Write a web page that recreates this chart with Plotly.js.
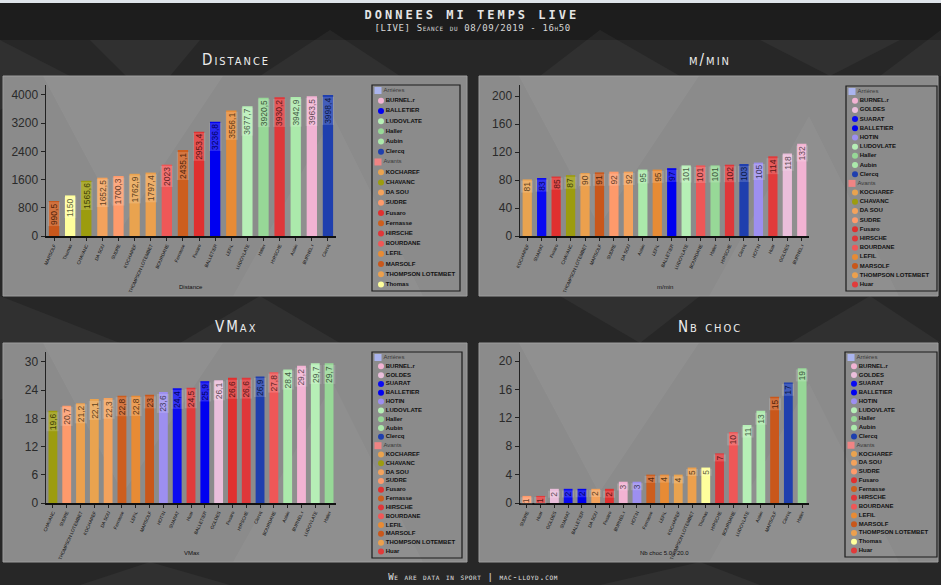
<!DOCTYPE html>
<html>
<head>
<meta charset="utf-8">
<script src="https://cdn.plot.ly/plotly-3.0.1.min.js"></script>
<style>
  html, body { margin: 0; padding: 0; background: #272727; }
  #chart { width: 941px; height: 585px; }
  .annotation[data-index="0"] .annotation-text { letter-spacing: 3px; }
  .annotation[data-index="1"] .annotation-text,
  .annotation[data-index="2"] .annotation-text { letter-spacing: 0.6px; }
  .annotation[data-index="3"] .annotation-text,
  .annotation[data-index="4"] .annotation-text,
  .annotation[data-index="5"] .annotation-text,
  .annotation[data-index="6"] .annotation-text { letter-spacing: 2px; }
</style>
</head>
<body>
<div id="chart"></div>
<script>
// ---- Data -------------------------------------------------------------
const distancePlayers = ['MARSOLF', 'Thomas', 'CHAVANC', 'DA SOU', 'SUDRE', 'KOCHAREF', 'THOMPSON LOTEMBET', 'BOURDANE', 'Fernasse', 'Fusaro', 'BALLETIER', 'LEFIL', 'LUDOVLATE', 'Haller', 'HIRSCHE', 'Aubin', 'BURNEL.r', 'Clercq'];
const distanceValues = [990.5, 1150, 1565.6, 1652.5, 1700.3, 1762.9, 1797.4, 2023, 2435.1, 2953.4, 3236.8, 3556.1, 3677.7, 3920.5, 3930.2, 3942.9, 3963.5, 3998.4];
const distanceBacks = ['BURNEL.r', 'BALLETIER', 'LUDOVLATE', 'Haller', 'Aubin', 'Clercq'];
const distanceForwards = ['KOCHAREF', 'CHAVANC', 'DA SOU', 'SUDRE', 'Fusaro', 'Fernasse', 'HIRSCHE', 'BOURDANE', 'LEFIL', 'MARSOLF', 'THOMPSON LOTEMBET', 'Thomas'];

const mminPlayers = ['KOCHAREF', 'SUARAT', 'Fusaro', 'CHAVANC', 'THOMPSON LOTEMBET', 'MARSOLF', 'SUDRE', 'DA SOU', 'Aubin', 'LEFIL', 'BALLETIER', 'LUDOVLATE', 'BOURDANE', 'Haller', 'HIRSCHE', 'Clercq', 'HOTIN', 'Huar', 'GOLDES', 'BURNEL.r'];
const mminValues = [81, 83, 85, 87, 90, 91, 92, 92, 95, 95, 97, 101, 101, 101, 102, 103, 105, 114, 118, 132];
const mminBacks = ['BURNEL.r', 'GOLDES', 'SUARAT', 'BALLETIER', 'HOTIN', 'LUDOVLATE', 'Haller', 'Aubin', 'Clercq'];
const mminForwards = ['KOCHAREF', 'CHAVANC', 'DA SOU', 'SUDRE', 'Fusaro', 'HIRSCHE', 'BOURDANE', 'LEFIL', 'MARSOLF', 'THOMPSON LOTEMBET', 'Huar'];

const vmaxPlayers = ['CHAVANC', 'SUDRE', 'THOMPSON LOTEMBET', 'KOCHAREF', 'DA SOU', 'Fernasse', 'LEFIL', 'MARSOLF', 'HOTIN', 'SUARAT', 'Huar', 'BALLETIER', 'GOLDES', 'Fusaro', 'HIRSCHE', 'Clercq', 'BOURDANE', 'Aubin', 'BURNEL.r', 'LUDOVLATE', 'Haller'];
const vmaxValues = [19.6, 20.7, 21.2, 22.1, 22.3, 22.8, 22.8, 23, 23.6, 24.4, 24.5, 25.9, 26.1, 26.6, 26.6, 26.9, 27.8, 28.4, 29.2, 29.7, 29.7];
const vmaxBacks = ['BURNEL.r', 'GOLDES', 'SUARAT', 'BALLETIER', 'HOTIN', 'LUDOVLATE', 'Haller', 'Aubin', 'Clercq'];
const vmaxForwards = ['KOCHAREF', 'CHAVANC', 'DA SOU', 'SUDRE', 'Fusaro', 'Fernasse', 'HIRSCHE', 'BOURDANE', 'LEFIL', 'MARSOLF', 'THOMPSON LOTEMBET', 'Huar'];

const chocPlayers = ['SUDRE', 'Huar', 'GOLDES', 'SUARAT', 'BALLETIER', 'DA SOU', 'Fusaro', 'BURNEL.r', 'HOTIN', 'Fernasse', 'LEFIL', 'KOCHAREF', 'THOMPSON LOTEMBET', 'Thomas', 'HIRSCHE', 'BOURDANE', 'LUDOVLATE', 'Aubin', 'MARSOLF', 'Clercq', 'Haller'];
const chocValues = [1, 1, 2, 2, 2, 2, 2, 3, 3, 4, 4, 4, 5, 5, 7, 10, 11, 13, 15, 17, 19];
const chocBacks = ['BURNEL.r', 'GOLDES', 'SUARAT', 'BALLETIER', 'HOTIN', 'LUDOVLATE', 'Haller', 'Aubin', 'Clercq'];
const chocForwards = ['KOCHAREF', 'DA SOU', 'SUDRE', 'Fusaro', 'Fernasse', 'HIRSCHE', 'BOURDANE', 'LEFIL', 'MARSOLF', 'THOMPSON LOTEMBET', 'Thomas', 'Huar'];

const groupNames = ['Arrières', 'Avants'];

// ---- Styles -----------------------------------------------------------
const playerColors = {
  'BURNEL.r': '#f2b3d3', 'GOLDES': '#eabedb', 'SUARAT': '#0a0af2', 'BALLETIER': '#0000f0',
  'HOTIN': '#9d8ff0', 'LUDOVLATE': '#b6efb6', 'Haller': '#97d897', 'Aubin': '#abe9ab',
  'Clercq': '#1f3fae', 'KOCHAREF': '#e9a34f', 'CHAVANC': '#9c9c0e', 'DA SOU': '#f3a25c',
  'SUDRE': '#fe9a6b', 'Fusaro': '#e0302f', 'Fernasse': '#cd5e1e', 'HIRSCHE': '#df373a',
  'BOURDANE': '#ef5757', 'LEFIL': '#e78b35', 'MARSOLF': '#c9571b',
  'THOMPSON LOTEMBET': '#eca04d', 'Thomas': '#ffff9c', 'Huar': '#e13b3b'
};
const groupColors = { 'Arrières': '#aab4ee', 'Avants': '#f08484' };

const W = 941, H = 585;
const px = x => x / W;
const py = y => 1 - y / H;

function darken(hex, k) {
  const n = parseInt(hex.slice(1), 16);
  const r = Math.round(((n >> 16) & 255) * k);
  const g = Math.round(((n >> 8) & 255) * k);
  const b = Math.round((n & 255) * k);
  return `rgb(${r},${g},${b})`;
}
const fmt = v => String(v).replace('.', ',');

// Panel frames: [left, top, right, bottom] in pixels
const panels = [
  { title: 'Distance', xTitle: 'Distance', players: distancePlayers, values: distanceValues,
    backs: distanceBacks, forwards: distanceForwards,
    frame: [3, 76, 467, 296], plot: [46, 85, 336, 236], legend: [372, 85, 460, 291],
    range: [0, 4280], dtick: 800 },
  { title: 'm/min', xTitle: 'm/min', players: mminPlayers, values: mminValues,
    backs: mminBacks, forwards: mminForwards,
    frame: [479, 76, 938, 296], plot: [520, 85, 809, 236], legend: [846, 86, 937, 291],
    range: [0, 216], dtick: 40 },
  { title: 'VMax', xTitle: 'VMax', players: vmaxPlayers, values: vmaxValues,
    backs: vmaxBacks, forwards: vmaxForwards,
    frame: [3, 343, 467, 562], plot: [46, 352, 336, 503], legend: [372, 352, 462, 558],
    range: [0, 32.1], dtick: 6 },
  { title: 'Nb choc', xTitle: 'Nb choc 5.0 | 20.0', players: chocPlayers, values: chocValues,
    backs: chocBacks, forwards: chocForwards,
    frame: [479, 343, 938, 562], plot: [520, 352, 809, 503], legend: [845, 352, 937, 557],
    range: [0, 21.3], dtick: 4 }
];

const traces = [];
const shapes = [];
const annotations = [];
const layout = {
  width: W, height: H,
  margin: { l: 0, r: 0, t: 0, b: 0 },
  paper_bgcolor: '#272727',
  plot_bgcolor: 'rgba(0,0,0,0)',
  font: { family: 'Liberation Sans, Arial, sans-serif', color: '#222' },
  bargap: 0.36,
  showlegend: false,
  hovermode: false
};

// ---- Background: bands, faceted texture, panels -----------------------
function poly(pts, fill) {
  const d = pts.map((p, i) => (i ? 'L' : 'M') + px(p[0]).toFixed(4) + ',' + py(p[1]).toFixed(4)).join(' ') + ' Z';
  return { type: 'path', xref: 'paper', yref: 'paper', path: d, fillcolor: fill, line: { width: 0 }, layer: 'below' };
}
shapes.push({ type: 'rect', xref: 'paper', yref: 'paper', x0: 0, x1: 1, y0: py(40), y1: 1,
  fillcolor: '#1d1d1d', line: { width: 0 }, layer: 'below' });
shapes.push({ type: 'rect', xref: 'paper', yref: 'paper', x0: 0, x1: 1, y0: py(3), y1: 1,
  fillcolor: '#dfe4ea', line: { width: 0 }, layer: 'below' });
// faceted texture in the dark bands
const facets = [
  [[0, 40], [70, 76], [0, 110]], [[90, 40], [200, 40], [150, 100]],
  [[260, 76], [330, 30], [400, 76]], [[540, 76], [600, 30], [680, 76]],
  [[760, 40], [830, 76], [900, 40]], [[880, 76], [941, 30], [941, 76]],
  [[0, 296], [120, 343], [0, 400]], [[180, 343], [260, 296], [340, 343]],
  [[560, 296], [640, 343], [700, 296]], [[790, 343], [870, 296], [941, 343]],
  [[80, 585], [150, 562], [230, 585]], [[600, 585], [700, 562], [760, 585]]
];
facets.forEach(f => shapes.push(poly(f, 'rgba(255,255,255,0.045)')));

panels.forEach(p => {
  const [l, t, r, b] = p.frame;
  shapes.push({ type: 'rect', xref: 'paper', yref: 'paper', x0: px(l), x1: px(r), y0: py(b), y1: py(t),
    fillcolor: '#8b8b8b', line: { color: '#9d9d9d', width: 1 }, layer: 'below' });
  // soft lighter facets inside the panel
  shapes.push(poly([[l + 40, t], [l + 220, t], [l + 120, t + 150]], 'rgba(255,255,255,0.05)'));
  shapes.push(poly([[l + 230, b], [l + 330, t + 40], [l + 420, b]], 'rgba(255,255,255,0.04)'));
});

// ---- Titles -------------------------------------------------------------
const centred = { xanchor: 'center', yanchor: 'middle', showarrow: false, xref: 'paper', yref: 'paper' };
annotations.push(Object.assign({ text: 'DONNEES MI TEMPS LIVE', x: px(472), y: py(15),
  font: { family: 'DejaVu Sans Mono, monospace', size: 12, weight: 'bold', color: '#e4e4e4' } }, centred));
annotations.push(Object.assign({ text: '[LIVE] Seance du 08/09/2019 - 16h50', x: px(472), y: py(28),
  font: { family: 'DejaVu Sans Mono, monospace', size: 9, variant: 'small-caps', color: '#d6d6d6' } }, centred));
annotations.push(Object.assign({ text: 'We are data in sport | mac-lloyd.com', x: px(473), y: py(577),
  font: { family: 'DejaVu Sans Mono, monospace', size: 9, variant: 'small-caps', color: '#e0e0e0' } }, centred));
panels.forEach(p => {
  const cx = (p.frame[0] + p.frame[2]) / 2;
  annotations.push(Object.assign({ text: p.title, x: px(cx + 1), y: py(p.frame[1] - 16),
    font: { family: 'DejaVu Sans Condensed, DejaVu Sans, sans-serif', size: 15, variant: 'small-caps', color: '#ececec' } }, centred));
});

// ---- Bar charts + per-panel legends ----------------------------------
panels.forEach((p, i) => {
  const s = i === 0 ? '' : String(i + 1);
  const ls = String(i + 5);
  const [pl, pt, pr, pb] = p.plot;

  layout['xaxis' + s] = {
    domain: [px(pl), px(pr)], anchor: 'y' + s, type: 'category',
    showline: true, linecolor: '#111', linewidth: 2,
    ticks: 'outside', ticklen: 3, tickcolor: '#222', tickangle: -66,
    tickfont: { size: 4.6, color: '#111' }, showgrid: false, zeroline: false, fixedrange: true
  };
  layout['yaxis' + s] = {
    domain: [py(pb), py(pt)], anchor: 'x' + s, range: p.range, tick0: 0, dtick: p.dtick,
    showline: true, linecolor: '#222', linewidth: 1.5,
    ticks: 'outside', ticklen: 4, tickcolor: '#222',
    tickfont: { size: 12, color: '#2a2a2a' }, showgrid: false, zeroline: false, fixedrange: true
  };

  traces.push({
    type: 'bar', x: p.players, y: p.values, xaxis: 'x' + s, yaxis: 'y' + s,
    marker: { color: p.players.map(n => playerColors[n]), line: { width: 0 } },
    hoverinfo: 'skip'
  });

  // value labels on top of each bar
  p.players.forEach((n, k) => {
    annotations.push({
      x: n, y: p.values[k], xref: 'x' + s, yref: 'y' + s,
      text: fmt(p.values[k]), textangle: -90, xanchor: 'center', yanchor: 'top', yshift: -1,
      showarrow: false, bgcolor: 'rgba(255,255,255,0.16)', borderpad: 0.5,
      font: { size: 8.5, color: darken(playerColors[n], 0.4) }
    });
  });

  // x-axis caption
  annotations.push(Object.assign({ text: p.xTitle, x: px((pl + pr) / 2), y: py(p.frame[3] - 9),
    font: { size: 6, color: '#111' } }, centred));

  // legend
  const [ll, lt, lr, lb] = p.legend;
  const lw = lr - ll, lh = lb - lt;
  layout['xaxis' + ls] = { domain: [px(ll), px(lr)], anchor: 'y' + ls, range: [0, lw], visible: false, fixedrange: true };
  layout['yaxis' + ls] = { domain: [py(lb), py(lt)], anchor: 'x' + ls, range: [lh, 0], visible: false, fixedrange: true };
  shapes.push({ type: 'rect', xref: 'x' + ls + ' domain', yref: 'y' + ls + ' domain', x0: 0, x1: 1, y0: 0, y1: 1,
    line: { color: '#1c1c1c', width: 1.2 }, fillcolor: 'rgba(0,0,0,0)' });

  const rows = [groupNames[0], ...p.backs, groupNames[1], ...p.forwards];
  const step = (lh - 12) / (rows.length - 1);
  const hdr = { x: [], y: [], text: [], color: [] };
  const ply = { x: [], y: [], text: [], color: [] };
  rows.forEach((r, k) => {
    const yk = 5.5 + k * step;
    if (groupNames.includes(r)) {
      hdr.x.push(6); hdr.y.push(yk); hdr.text.push(r); hdr.color.push(groupColors[r]);
    } else {
      ply.x.push(9); ply.y.push(yk); ply.text.push(r); ply.color.push(playerColors[r]);
    }
  });
  traces.push({
    type: 'scatter', mode: 'markers+text', x: hdr.x, y: hdr.y, text: hdr.text,
    xaxis: 'x' + ls, yaxis: 'y' + ls, textposition: 'middle right', cliponaxis: false,
    marker: { symbol: 'square', size: 7, color: hdr.color },
    textfont: { size: 6, color: '#3a3a3a' }, hoverinfo: 'skip'
  });
  traces.push({
    type: 'scatter', mode: 'markers+text', x: ply.x, y: ply.y, text: ply.text,
    xaxis: 'x' + ls, yaxis: 'y' + ls, textposition: 'middle right', cliponaxis: false,
    marker: { symbol: 'circle', size: 6, color: ply.color },
    textfont: { size: 6, color: '#111', weight: 'bold' }, hoverinfo: 'skip'
  });
});

layout.shapes = shapes;
layout.annotations = annotations;

Plotly.newPlot('chart', traces, layout, { displayModeBar: false, staticPlot: true });
</script>
</body>
</html>
